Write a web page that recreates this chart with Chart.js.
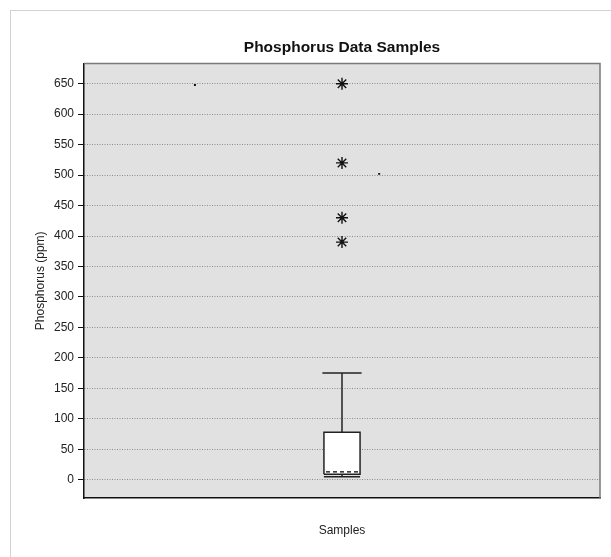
<!DOCTYPE html>
<html lang="en">
<head>
    <meta charset="UTF-8">
    <title>Phosphorus Data Samples</title>
    <script src="https://cdn.jsdelivr.net/npm/chart.js"></script>
    <style>
        body {
            margin: 0;
            background: #fff;
            font-family: Arial, "Liberation Sans", sans-serif;
        }
        #frame {
            position: absolute;
            left: 10px;
            top: 10px;
            width: 700px;
            height: 700px;
            border: 1px solid #d6d3cc;
        }
        #wrap {
            position: absolute;
            left: 0;
            top: 0;
            width: 611px;
            height: 557px;
        }
    </style>
</head>
<body>
    <div id="frame"></div>
    <div id="wrap"><canvas id="chartCanvas"></canvas></div>

    <script>
        // one sample group, box plot statistics (ppm)
        const sampleName = 'Samples';
        const boxX = 0.5;
        const boxHalf = 0.035;
        const q1 = 9;
        const q3 = 78;
        const meanVal = 13;
        const whiskerLow = 5;
        const whiskerHigh = 175;
        const outliers = [650, 520, 430, 390];

        // two tiny stray marks in the plot
        const strayX = [0.215, 0.572];
        const strayY = [648, 502];

        const yTicks = [0, 50, 100, 150, 200, 250, 300, 350, 400, 450, 500, 550, 600, 650];

        const lineStyle = { showLine: true, pointRadius: 0, borderColor: '#222', borderWidth: 1.5, tension: 0, order: 0 };

        const datasets = [
            Object.assign({
                label: 'box',
                data: [
                    { x: boxX - boxHalf, y: q1 }, { x: boxX + boxHalf, y: q1 },
                    { x: boxX + boxHalf, y: q3 }, { x: boxX - boxHalf, y: q3 },
                    { x: boxX - boxHalf, y: q1 }
                ],
                fill: 'shape',
                backgroundColor: '#fff'
            }, lineStyle, { order: 1 }),
            Object.assign({ label: 'upper whisker', data: [{ x: boxX, y: q3 }, { x: boxX, y: whiskerHigh }] }, lineStyle),
            Object.assign({ label: 'upper cap', data: [{ x: boxX - boxHalf - 0.003, y: whiskerHigh }, { x: boxX + boxHalf + 0.003, y: whiskerHigh }] }, lineStyle),
            Object.assign({ label: 'lower whisker', data: [{ x: boxX, y: q1 }, { x: boxX, y: whiskerLow }] }, lineStyle),
            Object.assign({ label: 'lower cap', data: [{ x: boxX - boxHalf, y: whiskerLow }, { x: boxX + boxHalf, y: whiskerLow }] }, lineStyle),
            Object.assign({ label: 'mean', data: [{ x: boxX - boxHalf + 0.004, y: meanVal }, { x: boxX + boxHalf - 0.004, y: meanVal }] }, lineStyle, { borderDash: [4, 3], borderWidth: 1.3, borderColor: '#000' }),
            {
                label: 'outliers',
                data: outliers.map(v => ({ x: boxX, y: v })),
                pointStyle: 'star',
                pointRadius: 6,
                pointBorderWidth: 1.4,
                pointBorderColor: '#111',
                showLine: false
            },
            {
                label: 'stray',
                data: strayX.map((x, i) => ({ x: x, y: strayY[i] })),
                pointStyle: 'rect',
                pointRadius: 1.4,
                pointBorderWidth: 0,
                pointBackgroundColor: '#111',
                showLine: false
            }
        ];

        // plot background and frame
        const plotFrame = {
            id: 'plotFrame',
            afterLayout(chart) {
                // center the title over the plot area
                chart.titleBlock.left = chart.chartArea.left;
                chart.titleBlock.right = chart.chartArea.right;
            },
            beforeDraw(chart) {
                const a = chart.chartArea;
                const ctx = chart.ctx;
                ctx.save();
                ctx.fillStyle = '#e1e1e1';
                ctx.fillRect(a.left, a.top, a.right - a.left, a.bottom - a.top);
                ctx.restore();
            },
            afterDraw(chart) {
                const a = chart.chartArea;
                const ctx = chart.ctx;
                ctx.save();
                ctx.strokeStyle = '#7a7a7a';
                ctx.lineWidth = 1.5;
                ctx.beginPath();
                ctx.moveTo(a.left, a.top);
                ctx.lineTo(a.right, a.top);
                ctx.lineTo(a.right, a.bottom);
                ctx.stroke();
                ctx.restore();
            }
        };

        Chart.defaults.font.family = 'Arial, "Liberation Sans", sans-serif';
        Chart.defaults.color = '#222';

        new Chart(document.getElementById('chartCanvas'), {
            type: 'scatter',
            data: { datasets: datasets },
            options: {
                responsive: true,
                maintainAspectRatio: false,
                animation: false,
                layout: { padding: { left: 20, top: 38, right: 11, bottom: 0 } },
                plugins: {
                    legend: { display: false },
                    tooltip: { enabled: false },
                    title: {
                        display: true,
                        text: 'Phosphorus Data Samples',
                        color: '#111',
                        font: { size: 15.5, weight: 'bold' },
                        padding: { top: 0, bottom: 7 }
                    }
                },
                scales: {
                    x: {
                        type: 'linear',
                        min: 0,
                        max: 1,
                        ticks: { display: false },
                        grid: { display: false },
                        border: { color: '#111', width: 1.5 },
                        title: {
                            display: true,
                            text: sampleName,
                            font: { size: 12 },
                            padding: { top: 4, bottom: 19 }
                        },
                        afterFit(scale) { scale.height = 59; }
                    },
                    y: {
                        min: -30,
                        max: 683,
                        afterBuildTicks(scale) {
                            scale.ticks = yTicks.map(v => ({ value: v }));
                        },
                        ticks: { font: { size: 12 }, padding: 4, color: '#222' },
                        grid: {
                            color: '#8c8c8c',
                            lineWidth: 1,
                            tickLength: 6,
                            tickColor: '#111',
                            tickWidth: 1,
                            tickBorderDash: []
                        },
                        border: { color: '#111', width: 1.5, dash: [1, 1.5] },
                        title: {
                            display: true,
                            text: 'Phosphorus (ppm)',
                            font: { size: 12 },
                            padding: { top: 13, bottom: 0 }
                        },
                        afterFit(scale) { scale.width = 64; }
                    }
                }
            },
            plugins: [plotFrame]
        });
    </script>
</body>
</html>
